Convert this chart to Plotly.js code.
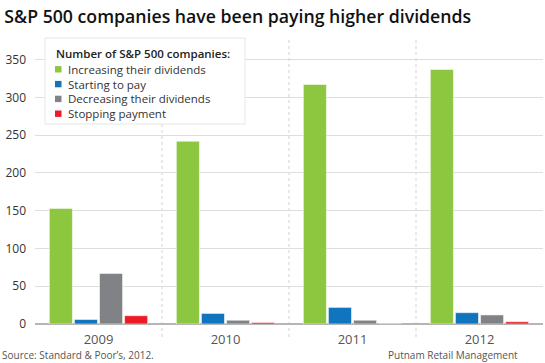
<!DOCTYPE html>
<html>
<head>
<meta charset="utf-8">
<script src="https://cdn.plot.ly/plotly-3.0.1.min.js"></script>
<style>html,body{margin:0;padding:0;background:#fff;}#chart{width:545px;height:363px;}</style>
</head>
<body>
<div id="chart"></div>
<script>
var years = ['2009', '2010', '2011', '2012'];
var increasing = [153, 242, 317, 337];
var starting = [6, 14, 22, 15];
var decreasing = [67, 5, 5, 12];
var stopping = [11, 2, 0, 3];
var seriesNames = ['Increasing their dividends', 'Starting to pay', 'Decreasing their dividends', 'Stopping payment'];
var seriesColors = ['#8DC63F', '#1174BF', '#808285', '#ED1C24'];
var legendTitle = 'Number of S&P 500 companies:';
var yTicks = [0, 50, 100, 150, 200, 250, 300, 350];

var values = [increasing, starting, decreasing, stopping];
var traces = values.map(function (v, i) {
  return {
    type: 'bar',
    x: years,
    y: v,
    name: seriesNames[i],
    showlegend: false,
    marker: { color: seriesColors[i], line: { color: 'rgba(255,255,255,0.55)', width: 1 } },
    hoverinfo: 'x+y+name'
  };
});

var font = "'Open Sans', 'DejaVu Sans', sans-serif";
var M = { l: 35, r: 2, t: 52, b: 39 };
var W = 545, H = 363;
var pw = W - M.l - M.r, ph = H - M.t - M.b;
function px(x) { return (x - M.l) / pw; }
function py(y) { return (H - M.b - y) / ph; }

var shapes = [0.5, 1.5, 2.5].map(function (xv) {
  return {
    type: 'line', xref: 'x', yref: 'paper', x0: xv, x1: xv, y0: py(337), y1: py(38),
    line: { color: '#d2d2d2', width: 1, dash: 'dot' }, layer: 'below'
  };
});
// legend box
shapes.push({ type: 'rect', xref: 'paper', yref: 'paper', x0: px(45), x1: px(245), y0: py(124), y1: py(38),
  fillcolor: '#ffffff', line: { color: '#e6e6e6', width: 1 }, layer: 'above' });

var annotations = [
  { text: legendTitle, xref: 'paper', yref: 'paper', x: px(54), y: py(53.5), xanchor: 'left', yanchor: 'middle',
    showarrow: false, font: { size: 11.5, color: '#222222', weight: 600 } },
  { text: "Source: Standard & Poor’s, 2012.", xref: 'paper', yref: 'paper', x: px(0), y: py(355),
    xanchor: 'left', yanchor: 'middle', showarrow: false, font: { size: 10, color: '#555555' } },
  { text: 'Putnam Retail Management', xref: 'paper', yref: 'paper', x: px(520), y: py(355),
    xanchor: 'right', yanchor: 'middle', showarrow: false, font: { size: 10, color: '#555555' } }
];
seriesNames.forEach(function (nm, i) {
  var cy = 69.3 + i * 14.8;
  shapes.push({ type: 'rect', xref: 'paper', yref: 'paper', x0: px(55), x1: px(61.5), y0: py(cy + 3.2), y1: py(cy - 3.2),
    fillcolor: seriesColors[i], line: { width: 0 }, layer: 'above' });
  annotations.push({ text: nm, xref: 'paper', yref: 'paper', x: px(66), y: py(cy), xanchor: 'left', yanchor: 'middle',
    showarrow: false, font: { size: 11.5, color: '#333333' } });
});

var layout = {
  width: W, height: H,
  margin: M,
  paper_bgcolor: '#ffffff', plot_bgcolor: '#ffffff',
  font: { family: font, color: '#333333', size: 12 },
  title: {
    text: 'S&P 500 companies have been paying higher dividends',
    x: 0.008, xanchor: 'left', xref: 'container', y: 0.955, yanchor: 'middle', yref: 'container',
    font: { family: font, size: 17.7, color: '#111111', weight: 600 }
  },
  barmode: 'group', bargap: 0.21, bargroupgap: 0.08,
  xaxis: {
    type: 'category', showgrid: false, zeroline: false, showline: false, ticks: '',
    ticklabelstandoff: 6,
    tickfont: { size: 13, color: '#555555' }, fixedrange: true
  },
  yaxis: {
    range: [0, 360], tickvals: yTicks, showgrid: true, gridcolor: '#dedede', gridwidth: 1,
    zeroline: true, zerolinecolor: '#b5b5b5', zerolinewidth: 1.5, showline: false, ticks: '',
    ticklabelstandoff: 8,
    tickfont: { size: 12, color: '#333333' }, fixedrange: true
  },
  showlegend: false,
  shapes: shapes,
  annotations: annotations
};

Plotly.newPlot('chart', traces, layout, { displayModeBar: false, staticPlot: true });
</script>
</body>
</html>
